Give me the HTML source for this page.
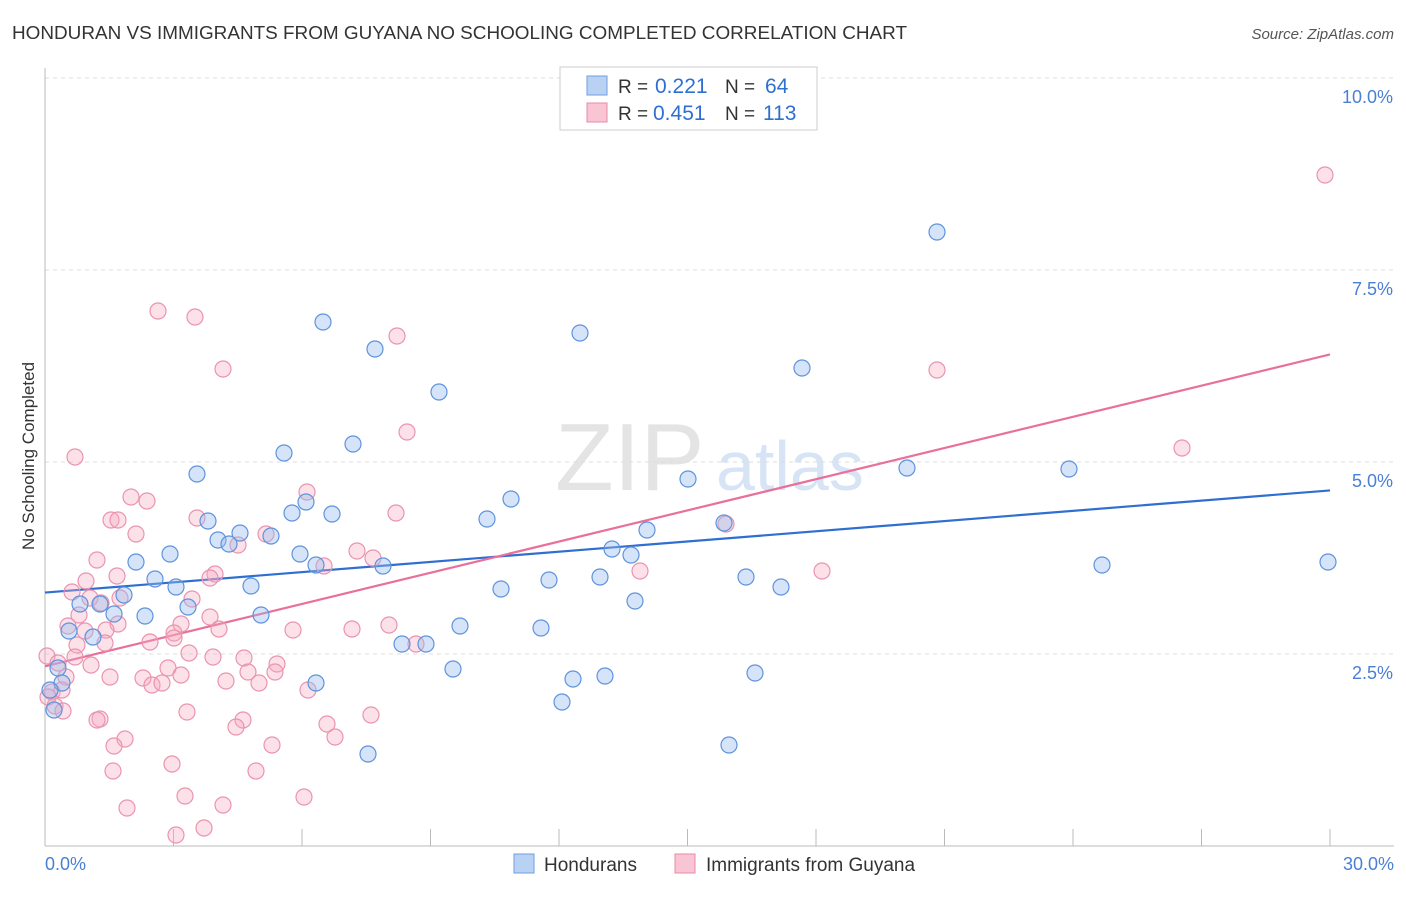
<!DOCTYPE html>
<html><head><meta charset="utf-8"><style>
body{margin:0;background:#fff;font-family:"Liberation Sans",sans-serif;}
svg text{font-family:"Liberation Sans",sans-serif;}
</style></head><body>
<svg id="chart" width="1406" height="892" viewBox="0 0 1406 892">
<text x="12" y="39" font-size="18" fill="#333" textLength="895" lengthAdjust="spacingAndGlyphs">HONDURAN VS IMMIGRANTS FROM GUYANA NO SCHOOLING COMPLETED CORRELATION CHART</text>
<text x="1394" y="39" font-size="15" fill="#555" text-anchor="end" font-style="italic">Source: ZipAtlas.com</text>
<text transform="translate(34,456) rotate(-90)" font-size="17" fill="#333" text-anchor="middle">No Schooling Completed</text>
<text x="555" y="490" font-size="96" fill="#e4e4e4" font-family="Liberation Serif">ZIP</text>
<text x="716" y="490" font-size="70" fill="#d6e4f5">atlas</text>
<g id="grid"></g><g id="axes"></g><g id="trends"></g><g id="dots"></g>
<g>
<rect x="560" y="67" width="257" height="63" fill="#fff" stroke="#ccc"/>
<rect x="587" y="76" width="20" height="19" fill="#b9d2f3" stroke="#6f9ee0"/>
<rect x="587" y="103" width="20" height="19" fill="#f9c5d5" stroke="#e58aa8"/>
<text x="618" y="93" font-size="19" fill="#333">R =</text>
<text x="655" y="93" font-size="21" fill="#2f6fd1">0.221</text>
<text x="725" y="93" font-size="19" fill="#333">N =</text>
<text x="765" y="93" font-size="21" fill="#2f6fd1">64</text>
<text x="618" y="120" font-size="19" fill="#333">R =</text>
<text x="653" y="120" font-size="21" fill="#2f6fd1">0.451</text>
<text x="725" y="120" font-size="19" fill="#333">N =</text>
<text x="763" y="120" font-size="21" fill="#2f6fd1">113</text>
</g>
<g>
<rect x="514" y="854" width="20" height="19" fill="#b9d2f3" stroke="#6f9ee0"/>
<text x="544" y="871" font-size="19" fill="#333">Hondurans</text>
<rect x="675" y="854" width="20" height="19" fill="#f9c5d5" stroke="#e58aa8"/>
<text x="706" y="871" font-size="19" fill="#333">Immigrants from Guyana</text>
</g>
</svg>
<script>
const blueX=[937,323,580,375,802,439,353,284,197,688,907,1069,511,306,292,332,487,208,724,240,271,218,229,647,612,631,300,170,136,316,383,1102,1328,155,176,251,549,600,746,781,501,124,100,80,188,145,114,261,635,460,541,69,93,402,426,453,573,605,755,316,58,62,562,54,368,729,50];
const blueY=[232,322,333,349,368,392,444,453,474,479,468,469,499,502,513,514,519,521,523,533,536,540,544,530,549,555,554,554,562,565,566,565,562,579,587,586,580,577,577,587,589,595,604,604,607,616,614,615,601,626,628,631,637,644,644,669,679,676,673,683,668,683,702,710,754,745,690];
const pinkX=[1325,158,195,397,223,937,407,1182,75,131,147,307,111,118,197,396,726,136,266,238,357,373,97,324,640,822,215,210,117,86,72,90,120,79,101,192,210,118,181,68,85,174,106,219,293,352,389,77,105,150,174,416,47,75,189,213,244,277,58,91,168,248,275,110,181,66,143,152,162,226,259,52,62,308,48,55,63,187,100,97,243,236,327,371,335,125,114,272,172,113,256,185,304,127,223,204,176];
const pinkY=[175,311,317,336,369,370,432,448,457,497,501,492,520,520,518,513,524,534,534,545,551,558,560,566,571,571,574,578,576,581,592,598,598,615,603,599,617,624,624,626,631,633,630,629,630,629,625,645,643,642,638,644,656,657,653,657,658,664,663,665,668,672,672,677,675,677,678,685,683,681,683,692,690,690,697,706,711,712,719,720,720,727,724,715,737,739,746,745,764,771,771,796,797,808,805,828,835];
const blueXs=blueX.map(p=>(p-45)/1285*30), blueYs=blueY.map(p=>(846-p)/76.8);
const pinkXs=pinkX.map(p=>(p-45)/1285*30), pinkYs=pinkY.map(p=>(846-p)/76.8);
const yTicks=[2.5,5,7.5,10];
const yTickLabels=["2.5%","5.0%","7.5%","10.0%"];
const xTicks=[0,3,6,9,12,15,18,21,24,27,30];
const blueTrend=[[0,3.3],[30,4.63]];
const pinkTrend=[[0,2.34],[30,6.4]];
const sx=v=>45+v/30*1285, sy=v=>846-v*76.8;
const NS="http://www.w3.org/2000/svg";
function mk(t,a,parent){const e=document.createElementNS(NS,t);for(const k in a)e.setAttribute(k,a[k]);parent.appendChild(e);return e;}
const grid=document.getElementById('grid'),axes=document.getElementById('axes');
yTicks.forEach((v,i)=>{
 const l=mk('line',{x1:45,x2:1394,y1:sy(v),y2:sy(v),stroke:'#ddd','stroke-dasharray':'4,4'},grid);
 
 
 const t=mk('text',{x:1393,y:sy(v)+25,'font-size':18,fill:'#4a7fd6','text-anchor':'end'},axes);
 t.textContent=yTickLabels[i];
 
 
});
const tl=mk('line',{x1:45,x2:1394,y1:78,y2:78,stroke:'#ddd','stroke-dasharray':'4,4'},grid);


const ya=mk('line',{x1:45,x2:45,y1:68,y2:846,stroke:'#bbb'},axes);


const xa=mk('line',{x1:45,x2:1394,y1:846,y2:846,stroke:'#bbb'},axes);


xTicks.forEach(v=>{const t=mk('line',{x1:sx(v),x2:sx(v),y1:829,y2:846,stroke:'#bbb'},axes);
 
 });
[["0.0%",45,'start'],["30.0%",1394,'end']].forEach(([s,x,a])=>{const t=mk('text',{x:x,y:870,'font-size':18,fill:'#4a7fd6','text-anchor':a},axes);t.textContent=s;
 
 });
const dots=document.getElementById('dots');
pinkXs.forEach((x,i)=>{const c=mk('circle',{cx:sx(x),cy:sy(pinkYs[i]),r:8,fill:'rgba(246,168,193,0.35)',stroke:'#eb93b0','stroke-width':1.2},dots);
 
 });
blueXs.forEach((x,i)=>{const c=mk('circle',{cx:sx(x),cy:sy(blueYs[i]),r:8,fill:'rgba(150,188,238,0.4)',stroke:'#5e93dc','stroke-width':1.2},dots);
 
 });
const tr=document.getElementById('trends');
const b=mk('line',{x1:sx(blueTrend[0][0]),y1:sy(blueTrend[0][1]),x2:sx(blueTrend[1][0]),y2:sy(blueTrend[1][1]),stroke:'#2f6fd1','stroke-width':2.2},tr);


const p=mk('line',{x1:sx(pinkTrend[0][0]),y1:sy(pinkTrend[0][1]),x2:sx(pinkTrend[1][0]),y2:sy(pinkTrend[1][1]),stroke:'#e8709a','stroke-width':2.2},tr);


</script>
</body></html>
